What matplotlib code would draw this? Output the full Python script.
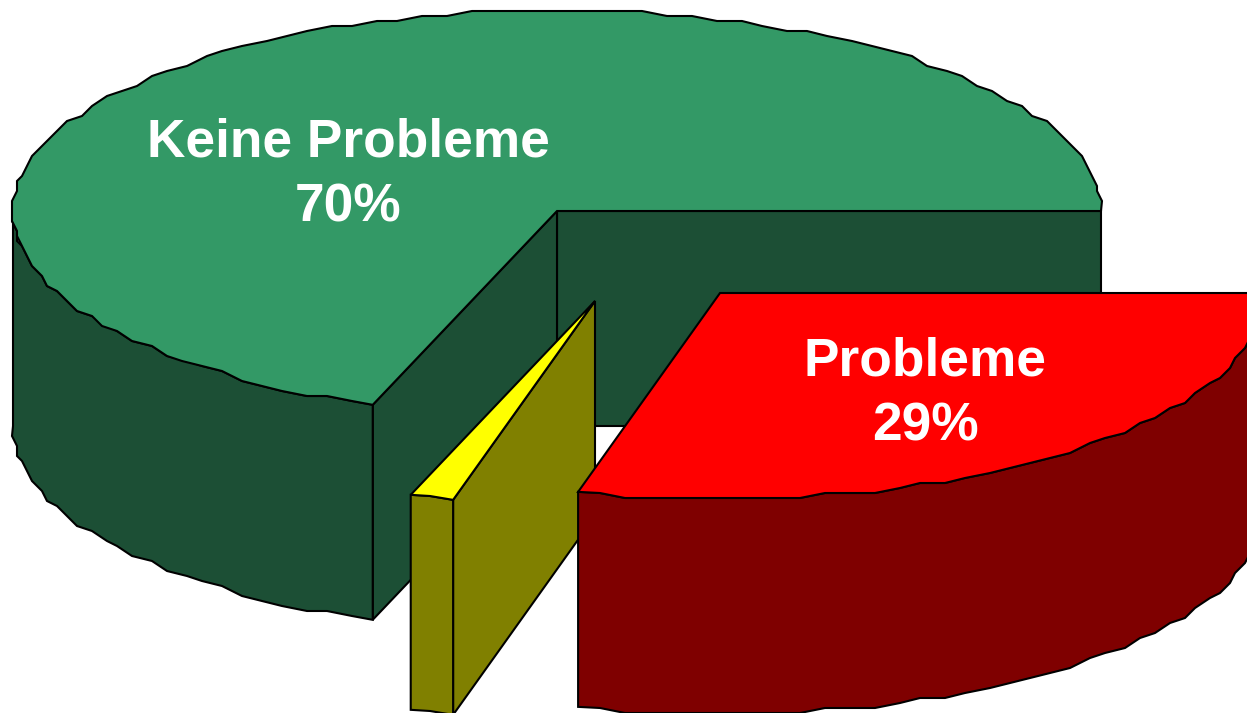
import matplotlib
matplotlib.use('Agg')
import matplotlib.pyplot as plt
import numpy as np
from matplotlib.patches import Polygon

plt.rcParams['font.family'] = ['Liberation Sans', 'DejaVu Sans']

# Slices, clockwise from the east
names = ['Probleme', '', 'Keine Probleme']
shares = [29.2, 1.3, 69.5]
percent_labels = ['29%', '', '70%']
top_colors = ['#FF0000', '#FFFF00', '#339966']
side_colors = ['#7F0000', '#808000', '#1C4F35']

# Pie geometry in pixels
rx = 544
ry_back, ry_front = 201, 206
depth = 215
center = np.array([557, 211])
offsets = [np.array([163, 82]), np.array([38, 90]), np.array([0, 0])]
step = 2.6  # degrees between outline vertices
grid = 5  # the original outline is slightly stepped


def rim(a0, a1, origin):
    n = max(int((a1 - a0) / step), 2)
    t = np.radians(np.linspace(a0, a1, n + 1))
    s = np.sin(t)
    pts = np.column_stack([rx * np.cos(t), np.where(s > 0, ry_front, ry_back) * s])
    snapped = np.round(pts / grid) * grid
    snapped[0], snapped[-1] = pts[0], pts[-1]
    return snapped + origin


def rim_point(a, origin):
    t = np.radians(a)
    return origin + np.array([rx * np.cos(t), ry_front * np.sin(t)])


def wall(ax, pts, color):
    down = pts + [0, depth]
    ax.add_patch(Polygon(np.vstack([pts, down[::-1]]), closed=True, fc=color, ec='black', lw=1.5))


fig = plt.figure(figsize=(12.47, 7.13), dpi=100)
ax = fig.add_axes([0, 0, 1, 1])
ax.set_xlim(0, 1247)
ax.set_ylim(713, 0)
ax.axis('off')

edges = np.cumsum([0] + shares) * 3.6
a_red = edges[1]
a_yellow = edges[2]

# green slice
c = center + offsets[2]
wall(ax, np.array([c, rim_point(0, c)]), side_colors[2])
wall(ax, np.array([c, rim_point(a_yellow, c)]), side_colors[2])
wall(ax, rim(a_yellow, 180, c), side_colors[2])
ax.add_patch(Polygon(np.vstack([[c], rim(a_yellow, 360, c)]), closed=True,
                     fc=top_colors[2], ec='black', lw=1.5))

# yellow slice
c = center + offsets[1]
wall(ax, np.array([c, rim_point(a_red, c)]), side_colors[1])
wall(ax, rim(a_red, a_yellow, c), side_colors[1])
ax.add_patch(Polygon(np.vstack([[c], rim(a_red, a_yellow, c)]), closed=True,
                     fc=top_colors[1], ec='black', lw=1.5))

# red slice
c = center + offsets[0]
wall(ax, rim(0, a_red, c), side_colors[0])
ax.add_patch(Polygon(np.vstack([[c], rim(0, a_red, c)]), closed=True,
                     fc=top_colors[0], ec='black', lw=1.5))

# labels
ax.text(348, 175, names[2] + '\n' + percent_labels[2], color='white', fontsize=38.3, fontweight='bold',
        ha='center', va='center', linespacing=1.39)
ax.text(925, 394, names[0] + '\n' + percent_labels[0], color='white', fontsize=38.3, fontweight='bold',
        ha='center', va='center', linespacing=1.39)

fig.savefig('out.png', dpi=100)
